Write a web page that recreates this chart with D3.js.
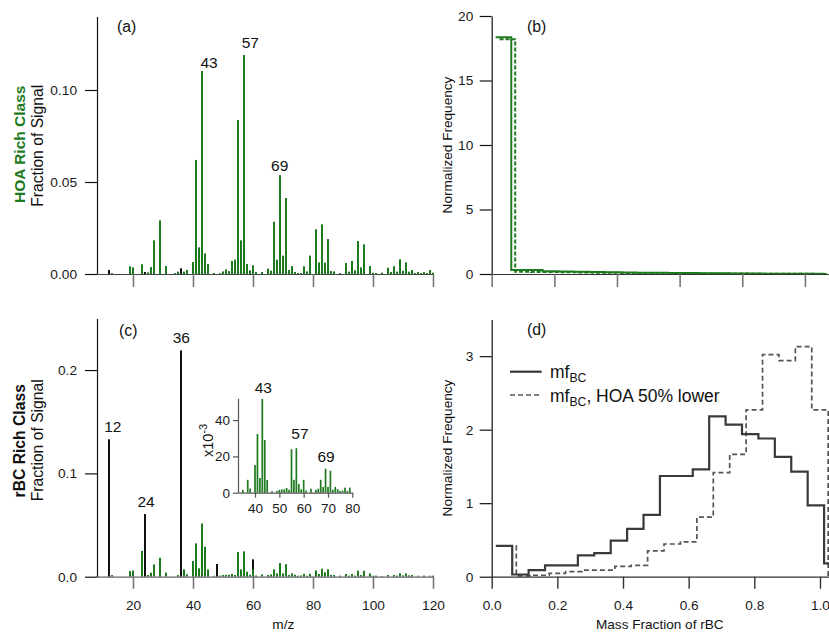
<!DOCTYPE html>
<html>
<head>
<meta charset="utf-8">
<script src="https://cdn.jsdelivr.net/npm/d3@7"></script>
<style>
  body { margin: 0; background: #fff; }
  svg { display: block; background: #fff; }
</style>
</head>
<body>
<svg id="fig" width="829" height="633"></svg>
<script>
// ---------------------------------------------------------------
// Mass spectra: organic fragments (green sticks), by m/z
// ---------------------------------------------------------------
const mz = [13,19,20,23,25,26,27,29,31,34,35,37,38,40,41,42,43,44,45,47,
            49,50,51,52,53,54,55,56,57,58,59,60,61,63,65,66,67,68,69,70,
            71,72,73,74,75,76,77,78,79,81,82,83,84,85,86,87,89,91,92,93,
            94,95,96,97,99,100,101,103,105,106,107,108,109,110,111,112,113,114,115,116,
            117,118,119,120];

// HOA rich class, fraction of signal
const hoaSignal = [0.0005,0.0042,0.0036,0.0053,0.0009,0.0038,0.0183,0.0292,0.0043,0.0005,
                   0.0013,0.0013,0.0022,0.0065,0.062,0.0145,0.1103,0.0112,0.0054,0.0005,
                   0.0004,0.0014,0.0025,0.0016,0.0071,0.0078,0.0837,0.0183,0.119,0.0054,
                   0.002,0.0047,0.0011,0.0011,0.0029,0.0018,0.0284,0.0078,0.0537,0.01,
                   0.0413,0.0022,0.0043,0.0011,0.0005,0.0005,0.0042,0.0014,0.01,0.0243,
                   0.0063,0.027,0.0062,0.019,0.0016,0.0014,0.0005,0.006,0.0013,0.0071,
                   0.002,0.0179,0.0036,0.0161,0.0043,0.0007,0.0005,0.0007,0.0034,0.0011,
                   0.0042,0.0013,0.008,0.0018,0.0063,0.0013,0.0022,0.0005,0.0011,0.0005,
                   0.0011,0.0005,0.0022,0.0007];

// rBC rich class, fraction of signal (organic part)
const rbcSignal = [0.0016,0.0055,0.006,0.025,0.0016,0.0039,0.0119,0.0184,0.0039,0,
                   0.0016,0.0071,0.0023,0.0152,0.0323,0.0081,0.0516,0.029,0.007,0.0008,
                   0.001,0.0016,0.0018,0.0018,0.0026,0.0016,0.0239,0.0071,0.0245,0.0048,
                   0.0019,0.0071,0.0012,0.0022,0.0016,0.0022,0.0071,0.0032,0.0132,0.0032,
                   0.0121,0.0016,0.0032,0.0019,0.001,0.0012,0.0028,0.001,0.0028,0.0061,
                   0.0026,0.0077,0.0042,0.0071,0.0016,0.0016,0.001,0.0026,0.001,0.0026,
                   0.001,0.0058,0.0016,0.0058,0.0032,0.001,0.001,0.0006,0.0016,0,
                   0.0016,0.001,0.0032,0.0013,0.0032,0.0013,0.0016,0,0.001,0,
                   0.001,0,0.001,0.001];

// Refractory carbon cluster ions C1..C5 (black sticks)
const carbonMz  = [12, 24, 36, 48, 60];
const hoaCarbon = [0.0022, 0.0011, 0.0031, 0, 0];
const rbcCarbon = [0.133, 0.0607, 0.219, 0.0123, 0.0168];

// Annotated peaks
const hoaPeaks   = [43, 57, 69];
const rbcPeaks   = [12, 24, 36];
const insetPeaks = [43, 57, 69];
const insetRange = [35, 80];

// ---------------------------------------------------------------
// Histograms of rBC mass fraction
// ---------------------------------------------------------------
const edgesBase  = [0.0125,0.0625,0.1125,0.1625,0.2125,0.2625,0.3125,0.3625,0.4125,0.4625,0.5125,
                    0.5625,0.6125,0.6625,0.7125,0.7625,0.8125,0.8625,0.9125,0.9625,1.0125,1.0625];
const edgesLower = [0.025,0.075,0.125,0.175,0.225,0.275,0.325,0.375,0.425,0.475,0.525,
                    0.575,0.625,0.675,0.725,0.775,0.825,0.875,0.925,0.975,1.025,1.075];

// (b) HOA rich class
const hoaFreq      = [18.35,0.31,0.31,0.22,0.2,0.18,0.15,0.13,0.12,0.1,0.09,0.08,0.07,0.06,0.05,0.04,0.03,0.02,0.02,0.01,0.01];
const hoaFreqLower = [18.2,0.18,0.15,0.15,0.14,0.12,0.1,0.09,0.08,0.07,0.06,0.06,0.05,0.04,0.03,0.03,0.02,0.02,0.01,0.01,0];
// (d) rBC rich class
const rbcFreq      = [0.42,0.03,0.09,0.155,0.155,0.29,0.32,0.49,0.65,0.84,1.37,1.37,1.46,2.18,2.07,1.94,1.88,1.63,1.43,0.97,0.18];
const rbcFreqLower = [0.42,0.01,0.02,0.045,0.07,0.09,0.09,0.14,0.155,0.35,0.445,0.475,0.81,1.415,1.665,2.27,3.02,2.94,3.13,2.27,0];

// Tick values
const ticksMz   = [20, 40, 60, 80, 100, 120];
const ticksA    = [0, 0.05, 0.10];
const ticksC    = [0, 0.1, 0.2];
const ticksFreqB = [0, 5, 10, 15, 20];
const ticksFreqD = [0, 1, 2, 3];
const ticksMf   = [0, 0.2, 0.4, 0.6, 0.8, 1.0];
const ticksInX  = [40, 50, 60, 70, 80];
const ticksInY  = [0, 20, 40];

// ---------------------------------------------------------------
// Drawing
// ---------------------------------------------------------------
const FONT = '"Liberation Sans", Arial, Helvetica, sans-serif';
const GREEN = "#1e7a1e";
const TICK_FS = 13.7;
const svg = d3.select("#fig").attr("font-family", FONT);

const xMz = d3.scaleLinear().domain([8, 120]).range([97, 433]);
const yA  = d3.scaleLinear().domain([0, 0.14]).range([274, 16.4]);
const yC  = d3.scaleLinear().domain([0, 0.25]).range([576.7, 318.4]);
const xB  = d3.scaleLinear().domain([0, 1.075]).range([491.7, 828.4]);
const yB  = d3.scaleLinear().domain([0, 20]).range([274, 16]);
const xD  = d3.scaleLinear().domain([0, 1.04]).range([491.7, 833.1]);
const yD  = d3.scaleLinear().domain([0, 3.5]).range([576.7, 319.4]);
const xIn = d3.scaleLinear().domain([33, 80]).range([238, 352.3]);
const yIn = d3.scaleLinear().domain([0, 52]).range([492.7, 398.3]);

function styleAxis(g, opts) {
  g.attr("font-family", FONT).attr("font-size", opts.fs || TICK_FS);
  g.select(".domain").attr("stroke", opts.domain || "#111").attr("stroke-width", opts.dw || 1.2);
  g.selectAll(".tick line").attr("stroke", opts.tick || "#111").attr("stroke-width", opts.tw || 1.2);
  g.selectAll(".tick text").attr("fill", "#1a1a1a");
  return g;
}

function leftAxis(scale, x, ticks, fmt, pad, size, opts = {}) {
  const g = svg.append("g").attr("transform", `translate(${x},0)`)
    .call(d3.axisLeft(scale).tickValues(ticks).tickFormat(fmt)
      .tickSize(size).tickSizeOuter(0).tickPadding(pad));
  return styleAxis(g, opts);
}

function bottomAxis(scale, y, ticks, fmt, pad, size, opts = {}) {
  const g = svg.append("g").attr("transform", `translate(0,${y})`)
    .call(d3.axisBottom(scale).tickValues(ticks).tickFormat(fmt)
      .tickSize(size).tickSizeOuter(0).tickPadding(pad));
  return styleAxis(g, opts);
}

function sticks(xs, ys, mzs, vals, color, w) {
  svg.append("g").selectAll("rect")
    .data(mzs.map((m, i) => ({ m, v: vals[i] })).filter(d => d.v > 0))
    .join("rect")
    .attr("x", d => xs(d.m) - w / 2)
    .attr("width", w)
    .attr("y", d => ys(d.v))
    .attr("height", d => ys(0) - ys(d.v))
    .attr("fill", color);
}

function steps(xs, ys, edges, vals, color, width, dash) {
  const pts = edges.map((e, i) => [e, vals[Math.min(i, vals.length - 1)]]);
  const line = d3.line().x(d => xs(d[0])).y(d => ys(d[1])).curve(d3.curveStepAfter);
  svg.append("path").attr("d", line(pts))
    .attr("fill", "none").attr("stroke", color).attr("stroke-width", width)
    .attr("stroke-dasharray", dash || null);
}

function rotLabel(x, y, text, fs, opts = {}) {
  svg.append("text")
    .attr("transform", `translate(${x},${y}) rotate(-90)`)
    .attr("text-anchor", "middle")
    .attr("font-size", fs)
    .attr("font-weight", opts.bold ? "bold" : null)
    .attr("fill", opts.color || "#111")
    .text(text);
}

function plainText(x, y, text, fs, anchor = "start") {
  svg.append("text").attr("x", x).attr("y", y)
    .attr("font-size", fs).attr("text-anchor", anchor).attr("fill", "#111").text(text);
}

function peakLabels(xs, ys, peaks, lookup, place, fs) {
  peaks.forEach((p, i) => {
    svg.append("text")
      .attr("x", xs(p) + place[i].dx)
      .attr("y", ys(lookup(p)) - place[i].gap)
      .attr("text-anchor", "middle").attr("font-size", fs).attr("fill", "#111")
      .text(p);
  });
}

const valueAt = (arr) => (m) => {
  const k = mz.indexOf(m);
  if (k >= 0 && arr[k] > 0) return arr[k];
  return 0;
};
const carbonAt = (arr) => (m) => arr[carbonMz.indexOf(m)];

// ---------------- (a) HOA rich class spectrum ----------------
sticks(xMz, yA, mz, hoaSignal, GREEN, 2);
sticks(xMz, yA, carbonMz, hoaCarbon, "#111", 2);
bottomAxis(xMz, 274, ticksMz, "", 0, 13, { tick: "#777", tw: 1.6, domain: "#444" });
leftAxis(yA, 97, ticksA, d3.format(".2f"), 8, 12);
peakLabels(xMz, yA, hoaPeaks, valueAt(hoaSignal),
  [{ dx: 7, gap: 3.5 }, { dx: 6.3, gap: 6.7 }, { dx: -0.3, gap: 4.5 }], 15.5);
plainText(117, 31.7, "(a)", 15.8);
rotLabel(25, 144.3, "HOA Rich Class", 15.5, { bold: true, color: GREEN });
rotLabel(42.5, 145.8, "Fraction of Signal", 15.7);

// ---------------- (c) rBC rich class spectrum ----------------
sticks(xMz, yC, carbonMz, rbcCarbon, "#111", 2);
sticks(xMz, yC, mz, rbcSignal, GREEN, 2);
bottomAxis(xMz, 576.7, ticksMz, d3.format("d"), 11.6, 12, { tick: "#777", tw: 1.6, domain: "#666" });
leftAxis(yC, 97, ticksC, d3.format(".1f"), 8, 12);
peakLabels(xMz, yC, rbcPeaks, carbonAt(rbcCarbon),
  [{ dx: 3.8, gap: 7.6 }, { dx: 1, gap: 7.3 }, { dx: 0.3, gap: 7.8 }], 15.5);
plainText(119, 336, "(c)", 15.8);
rotLabel(25, 440.8, "rBC Rich Class", 15.7, { bold: true });
rotLabel(42.5, 440.3, "Fraction of Signal", 15.7);
plainText(283.3, 629, "m/z", 13.6, "middle");

// inset: organic part of the rBC class spectrum, x10^-3
const inMz = mz.filter(m => m >= insetRange[0] && m <= insetRange[1]);
const inVal = inMz.map(m => valueAt(rbcSignal)(m) * 1000);
sticks(xIn, yIn, inMz, inVal, GREEN, 1.7);
bottomAxis(xIn, 492.7, ticksInX, d3.format("d"), 5.5, 5, { tick: "#555", domain: "#555", tw: 1.2, fs: 13.5 });
leftAxis(yIn, 238, ticksInY, d3.format("d"), 3, 5, { tick: "#555", domain: "#555", tw: 1.2, fs: 13.5 });
peakLabels(xIn, yIn, insetPeaks, m => valueAt(rbcSignal)(m) * 1000,
  [{ dx: 1, gap: 5.7 }, { dx: 3.6, gap: 8.9 }, { dx: 0.5, gap: 6.4 }], 15.5);
{
  const t = svg.append("text")
    .attr("transform", "translate(213,457) rotate(-90)")
    .attr("font-size", 14.5).attr("fill", "#111");
  t.append("tspan").text("x10");
  t.append("tspan").attr("dy", -6).attr("font-size", 11).text("-3");
}

// ---------------- (b) HOA rich class, mass fraction of rBC ----------------
steps(xB, yB, edgesLower, hoaFreqLower, GREEN, 2, "4,2");
steps(xB, yB, edgesBase, hoaFreq, GREEN, 2);
bottomAxis(xB, 274, ticksMf, "", 0, 13, { tick: "#777", tw: 1.6, domain: "#333" });
leftAxis(yB, 491.7, ticksFreqB, d3.format("d"), 6.4, 12);
plainText(527, 31.7, "(b)", 15.8);
rotLabel(451.5, 145, "Normalized Frequency", 13.6);

// ---------------- (d) rBC rich class, mass fraction of rBC ----------------
steps(xD, yD, edgesLower, rbcFreqLower, "#555", 1.7, "5,3");
steps(xD, yD, edgesBase, rbcFreq, "#3a3a3a", 2.2);
bottomAxis(xD, 576.7, ticksMf, d3.format(".1f"), 11.6, 12, { tick: "#333", tw: 1.4, domain: "#333" });
leftAxis(yD, 491.7, ticksFreqD, d3.format("d"), 6.4, 12);
plainText(527, 335, "(d)", 15.8);
rotLabel(451.5, 448, "Normalized Frequency", 13.6);
plainText(659.8, 629, "Mass Fraction of rBC", 13.6, "middle");

// legend
const legend = [
  { y: 371.7, dash: null, color: "#3a3a3a", w: 2.2, rest: "" },
  { y: 395,   dash: "5,3", color: "#555", w: 1.7, rest: ", HOA 50% lower" }
];
legend.forEach(l => {
  svg.append("line").attr("x1", 510).attr("x2", 541.7).attr("y1", l.y).attr("y2", l.y)
    .attr("stroke", l.color).attr("stroke-width", l.w).attr("stroke-dasharray", l.dash);
  const t = svg.append("text").attr("x", 550).attr("y", l.y + 6.5)
    .attr("font-size", 17.5).attr("fill", "#111");
  t.append("tspan").text("mf");
  t.append("tspan").attr("dy", 4.2).attr("font-size", 12.2).text("BC");
  if (l.rest) t.append("tspan").attr("dy", -4.2).text(l.rest);
});
</script>
</body>
</html>
